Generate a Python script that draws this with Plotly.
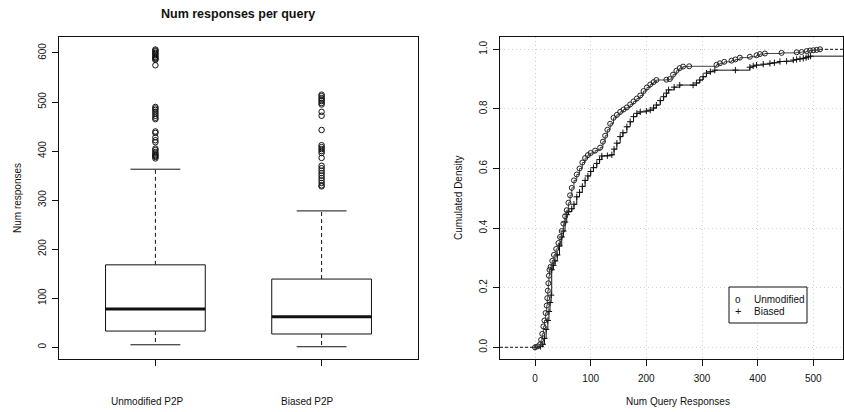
import plotly.graph_objects as go

# ---------------- data ----------------
groups = ["Unmodified P2P", "Biased P2P"]
box_lower = [5, 1]
box_q1 = [33, 27]
box_median = [78, 62]
box_q3 = [168, 139]
box_upper = [363, 278]
outliers_unmod = [607, 605, 603, 600, 598, 595, 592, 590, 588, 586, 575,
                  490, 487, 484, 480, 476, 472, 468, 465,
                  440, 437, 428, 422, 418,
                  405, 402, 398, 395, 392, 390, 388, 385]
outliers_biased = [515, 512, 508, 505, 502, 498, 495,
                   480, 472, 443,
                   412, 408, 404, 400, 396, 386,
                   370, 365, 360, 355, 350, 345, 340, 335, 330, 328]

unmod_x = [0, 5, 9, 11, 13, 15, 17, 19, 21, 22, 23, 24, 25, 26, 28, 31, 34, 38, 42, 45,
           48, 51, 54, 57, 60, 63, 66, 70, 75, 80, 85, 90, 95, 100, 108, 117, 122, 126,
           130, 135, 141, 147, 153, 159, 165, 171, 177, 183, 189, 195, 201, 207, 213, 218,
           236, 242, 248, 254, 260, 266, 277, 326, 332, 340, 353, 360, 368, 386, 398, 404,
           413, 443, 470, 479, 488, 494, 500, 506, 512]
unmod_y = [0.0, 0.003, 0.01, 0.025, 0.045, 0.07, 0.09, 0.115, 0.14, 0.165, 0.19, 0.215,
           0.24, 0.26, 0.27, 0.29, 0.31, 0.33, 0.35, 0.37, 0.39, 0.415, 0.44, 0.46, 0.485,
           0.51, 0.535, 0.56, 0.58, 0.6, 0.62, 0.635, 0.645, 0.652, 0.66, 0.67, 0.69, 0.71,
           0.73, 0.75, 0.77, 0.78, 0.79, 0.798, 0.805, 0.815, 0.825, 0.835, 0.845, 0.86,
           0.872, 0.882, 0.89, 0.897, 0.898, 0.9, 0.915, 0.928, 0.937, 0.942, 0.943, 0.948,
           0.953, 0.958, 0.962, 0.966, 0.972, 0.975, 0.98, 0.984, 0.986, 0.988, 0.99, 0.991,
           0.994, 0.996, 0.997, 0.998, 1.0]

biased_x = [0, 10, 14, 17, 20, 23, 25, 27, 29, 30, 33, 36, 40, 44, 48, 51, 54, 57, 60, 66,
            70, 75, 80, 85, 90, 95, 100, 105, 111, 116, 120, 130, 138, 142, 147, 153, 158,
            165, 171, 177, 183, 189, 200, 207, 213, 218, 225, 231, 236, 240, 250, 260, 284,
            290, 296, 302, 308, 315, 323, 360, 386, 392, 398, 410, 422, 430, 440, 452, 464,
            470, 476, 482, 487, 491, 495]
biased_y = [0.0, 0.003, 0.01, 0.03, 0.06, 0.09, 0.12, 0.15, 0.175, 0.26, 0.275, 0.29,
            0.31, 0.34, 0.37, 0.39, 0.42, 0.445, 0.455, 0.465, 0.48, 0.505, 0.52, 0.54,
            0.56, 0.575, 0.59, 0.603, 0.617, 0.63, 0.642, 0.643, 0.646, 0.665, 0.685, 0.707,
            0.72, 0.74, 0.757, 0.774, 0.785, 0.79, 0.793, 0.796, 0.803, 0.813, 0.828, 0.841,
            0.853, 0.864, 0.873, 0.88, 0.88, 0.887, 0.897, 0.908, 0.92, 0.925, 0.93, 0.93,
            0.94, 0.944, 0.947, 0.95, 0.953, 0.955, 0.959, 0.96, 0.964, 0.966, 0.968, 0.97,
            0.972, 0.975, 0.977]

y_ticks_left = [0, 100, 200, 300, 400, 500, 600]
x_ticks_right = [0, 100, 200, 300, 400, 500]
y_ticks_right = [0.0, 0.2, 0.4, 0.6, 0.8, 1.0]
y_ticktext_right = ["0.0", "0.2", "0.4", "0.6", "0.8", "1.0"]
legend_labels = ["Unmodified", "Biased"]

# ---------------- styling constants ----------------
FONT = "Liberation Sans, Arial, Helvetica, sans-serif"
INK = "#111111"
W, H = 844, 412


def xp(px):
    return px / W


def yp(py):
    return 1 - py / H


XR_LEFT = [0.42, 2.58]
YR_LEFT = [-24, 632.6]
XR_RIGHT = [-62.9, 553.3]
YR_RIGHT = [-0.0393, 1.0413]
BOX_HALF = 0.3
CAP_HALF = 0.15

fig = go.Figure()

# ---------------- left: boxplot ----------------
bx, by, mx, my, wx, wy, cx, cy = [], [], [], [], [], [], [], []
for i in range(len(groups)):
    c = i + 1
    bx += [c - BOX_HALF, c + BOX_HALF, c + BOX_HALF, c - BOX_HALF, c - BOX_HALF, None]
    by += [box_q1[i], box_q1[i], box_q3[i], box_q3[i], box_q1[i], None]
    mx += [c - BOX_HALF, c + BOX_HALF, None]
    my += [box_median[i], box_median[i], None]
    wx += [c, c, None, c, c, None]
    wy += [box_q3[i], box_upper[i], None, box_q1[i], box_lower[i], None]
    cx += [c - CAP_HALF, c + CAP_HALF, None, c - CAP_HALF, c + CAP_HALF, None]
    cy += [box_upper[i], box_upper[i], None, box_lower[i], box_lower[i], None]

common = dict(xaxis="x", yaxis="y", showlegend=False, hoverinfo="skip")
fig.add_trace(go.Scatter(x=wx, y=wy, mode="lines",
                         line=dict(color=INK, width=1, dash="4px,3px"), **common))
fig.add_trace(go.Scatter(x=cx, y=cy, mode="lines", line=dict(color=INK, width=1), **common))
fig.add_trace(go.Scatter(x=bx, y=by, mode="lines", line=dict(color=INK, width=1),
                         fill="toself", fillcolor="white", **common))
fig.add_trace(go.Scatter(x=mx, y=my, mode="lines", line=dict(color=INK, width=3), **common))
fig.add_trace(go.Scatter(x=[1] * len(outliers_unmod) + [2] * len(outliers_biased),
                         y=outliers_unmod + outliers_biased, mode="markers",
                         marker=dict(symbol="circle-open", size=5.5, color=INK,
                                     line=dict(width=1, color=INK)), **common))

# ---------------- right: ECDF ----------------
c2 = dict(xaxis="x2", yaxis="y2", hoverinfo="skip", showlegend=False)
fig.add_trace(go.Scatter(x=[XR_RIGHT[0], unmod_x[0]], y=[unmod_y[0], unmod_y[0]], mode="lines",
                         line=dict(color=INK, width=1, dash="3px,2px"), **c2))
fig.add_trace(go.Scatter(x=[unmod_x[-1], XR_RIGHT[1]], y=[unmod_y[-1], unmod_y[-1]], mode="lines",
                         line=dict(color=INK, width=1, dash="3px,2px"), **c2))
fig.add_trace(go.Scatter(x=[biased_x[-1], XR_RIGHT[1]], y=[biased_y[-1], biased_y[-1]], mode="lines",
                         line=dict(color=INK, width=1), **c2))
fig.add_trace(go.Scatter(x=biased_x, y=biased_y, mode="lines+markers", name="Biased",
                         line=dict(color=INK, width=1, shape="hv"),
                         marker=dict(symbol="cross-thin", size=4.5, color=INK,
                                     line=dict(width=1, color=INK)), **c2))
fig.add_trace(go.Scatter(x=unmod_x, y=unmod_y, mode="lines+markers", name="Unmodified",
                         line=dict(color="#444444", width=1, shape="hv"),
                         marker=dict(symbol="circle-open", size=5, color="#222222",
                                     line=dict(width=1, color="#222222")), **c2))

axis_common = dict(showline=True, mirror=True, linecolor=INK, linewidth=1,
                   ticks="outside", ticklen=6, tickcolor=INK, zeroline=False,
                   tickfont=dict(family=FONT, size=10, color=INK))

Y_DOM = [yp(359), yp(37)]


def ann(text, x, y, size=10, angle=0, xanchor="center"):
    return dict(text=text, x=xp(x), y=yp(y), xref="paper", yref="paper",
                xanchor=xanchor, yanchor="middle", showarrow=False, textangle=angle,
                font=dict(family=FONT, size=size, color=INK))


annotations = [
    ann("<b>Num responses per query</b>", 238, 14, size=12.5),
    ann("Num responses", 17, 198, angle=-90),
    ann(groups[0], 147, 401),
    ann(groups[1], 307, 401),
    ann("Cumulated Density", 458, 198, angle=-90),
    ann("Num Query Responses", 678, 401),
    # manual legend (R style)
    ann("o", 738, 299, size=10),
    ann("+", 738, 311, size=11),
    ann(legend_labels[0], 752, 299, xanchor="left"),
    ann(legend_labels[1], 752, 311, xanchor="left"),
]

shapes = [dict(type="rect", xref="paper", yref="paper",
               x0=xp(729), x1=xp(807), y0=yp(323), y1=yp(287),
               line=dict(color=INK, width=1), fillcolor="white", layer="above")]

fig.update_layout(
    width=W, height=H,
    margin=dict(l=0, r=0, t=0, b=0),
    paper_bgcolor="white", plot_bgcolor="white",
    font=dict(family=FONT, size=10, color=INK),
    showlegend=False,
    xaxis=dict(domain=[xp(59), xp(418)], range=XR_LEFT, tickvals=[1, 2],
               ticktext=["", ""], showgrid=False, **axis_common),
    yaxis=dict(domain=Y_DOM, range=YR_LEFT, tickvals=y_ticks_left, tickangle=-90,
               showgrid=False, ticklabelstandoff=2, **axis_common),
    xaxis2=dict(domain=[xp(500), xp(843)], range=XR_RIGHT, tickvals=x_ticks_right,
                showgrid=True, gridcolor="#d0d0d0", griddash="1px,3px", gridwidth=1,
                anchor="y2", ticklabelstandoff=4, **axis_common),
    yaxis2=dict(domain=Y_DOM, range=YR_RIGHT, tickvals=y_ticks_right,
                ticktext=y_ticktext_right, tickangle=-90,
                showgrid=True, gridcolor="#d0d0d0", griddash="1px,3px", gridwidth=1,
                anchor="x2", ticklabelstandoff=2, **axis_common),
    annotations=annotations,
    shapes=shapes,
)

fig.write_html("out.html", config={"displayModeBar": False},
               post_script="document.body.style.margin='0px';")
